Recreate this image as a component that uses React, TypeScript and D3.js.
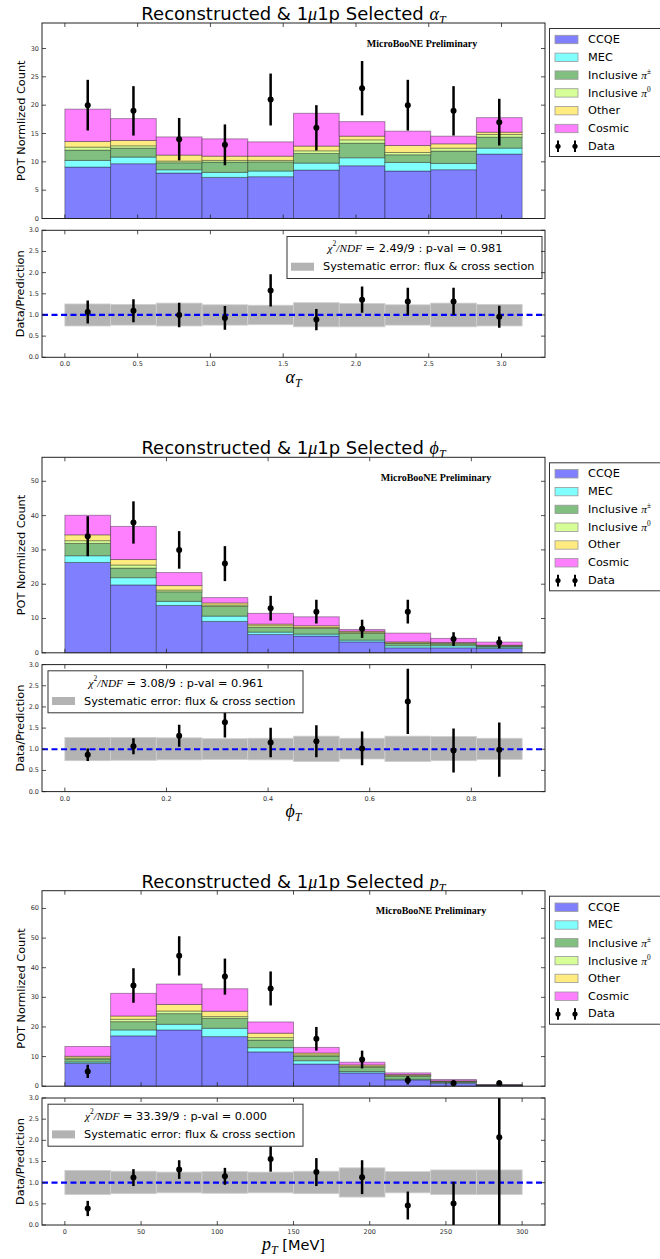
import React from 'react';
import * as d3 from 'd3';

// layout of one figure block (title + main panel + ratio panel)
const FRAME_L = 42;
const FRAME_R = 545;
const MAIN_TOP = 23;
const MAIN_BOT = 218.5;
const RATIO_TOP = 230.3;
const RATIO_BOT = 357.3;
const SANS = 'DejaVu Sans, sans-serif';
const MATH = 'Liberation Serif, DejaVu Serif, serif';

const compKeys = ['CCQE', 'MEC', 'Inclusive pipm', 'Inclusive pi0', 'Other', 'Cosmic'];
const compColors = ['#8080ff', '#80ffff', '#80bf80', '#d6ff97', '#ffeb80', '#ff80ff'];

// ---- alpha_T ----
const alphaRange = [0, Math.PI];
const alphaCCQE = [9.08, 9.67, 8.03, 7.26, 7.38, 8.55, 9.31, 8.38, 8.61, 11.37];
const alphaMEC = [1.17, 1.17, 0.57, 0.88, 1.0, 1.23, 1.41, 1.52, 1.11, 1.05];
const alphaPipm = [1.82, 1.58, 1.24, 1.82, 1.62, 1.7, 2.58, 1.35, 2.18, 1.94];
const alphaPi0 = [0.53, 0.41, 0.3, 0.29, 0.25, 0.47, 0.58, 0.4, 0.52, 0.46];
const alphaOther = [1.0, 0.94, 1.05, 0.75, 0.75, 0.83, 0.65, 1.23, 0.76, 0.41];
const alphaCosmic = [5.7, 3.86, 3.21, 3.06, 2.53, 5.79, 2.57, 2.53, 1.35, 2.57];
const alphaData = [20, 19, 14, 13, 21, 16, 23, 20, 19, 17];
const alphaRatio = [1.07, 1.1, 1.0, 0.93, 1.58, 0.89, 1.36, 1.32, 1.32, 0.96];
const alphaRatioErr = [0.27, 0.27, 0.29, 0.28, 0.38, 0.25, 0.31, 0.32, 0.32, 0.26];
const alphaSysLo = [0.74, 0.76, 0.74, 0.76, 0.77, 0.72, 0.72, 0.76, 0.72, 0.74];
const alphaSysHi = [1.26, 1.25, 1.28, 1.24, 1.23, 1.29, 1.27, 1.24, 1.28, 1.25];
const alphaTicks = [0, 0.5, 1.0, 1.5, 2.0, 2.5, 3.0];
const alphaTickLabels = ['0.0', '0.5', '1.0', '1.5', '2.0', '2.5', '3.0'];

// ---- phi_T ----
const phiRange = [0, 0.9];
const phiCCQE = [26.35, 19.8, 13.8, 9.15, 5.36, 4.9, 3.2, 1.46, 1.46, 1.27];
const phiMEC = [1.95, 2.1, 1.2, 1.55, 0.67, 0.55, 0.5, 0.59, 0.59, 0.39];
const phiPipm = [3.6, 2.8, 2.8, 2.85, 1.37, 1.65, 1.94, 0.65, 0.55, 0.34];
const phiPi0 = [0.8, 0.9, 0.5, 0.4, 0.5, 0.3, 0.36, 0.2, 0.2, 0.1];
const phiOther = [1.7, 1.6, 1.3, 0.6, 0.47, 0.5, 0.3, 0.3, 0.2, 0.14];
const phiCosmic = [5.7, 9.65, 3.8, 1.55, 3.13, 2.6, 0.5, 2.54, 1.2, 0.88];
const phiData = [34, 38, 30, 26, 13, 12, 7, 12, 4, 3];
const phiRatio = [0.87, 1.07, 1.32, 1.64, 1.16, 1.19, 1.02, 2.13, 0.97, 0.99];
const phiRatioErr = [0.15, 0.19, 0.26, 0.36, 0.35, 0.38, 0.4, 0.77, 0.52, 0.64];
const phiSysLo = [0.73, 0.74, 0.75, 0.76, 0.75, 0.71, 0.77, 0.71, 0.73, 0.76];
const phiSysHi = [1.28, 1.28, 1.27, 1.25, 1.26, 1.31, 1.26, 1.31, 1.3, 1.26];
const phiTicks = [0, 0.2, 0.4, 0.6, 0.8];
const phiTickLabels = ['0.0', '0.2', '0.4', '0.6', '0.8'];

// ---- p_T ----
const ptRange = [0, 300];
const ptCCQE = [7.75, 17.0, 19.0, 16.75, 11.6, 7.5, 4.5, 2.14, 1.0, 0.3];
const ptMEC = [0.45, 2.0, 1.9, 2.8, 1.4, 1.1, 0.45, 0.22, 0.25, 0.03];
const ptPipm = [1.0, 2.8, 3.6, 3.35, 2.6, 1.6, 1.45, 1.04, 0.35, 0.05];
const ptPi0 = [0.35, 0.8, 0.9, 0.6, 0.8, 0.4, 0.35, 0.2, 0.1, 0.02];
const ptOther = [0.55, 1.1, 2.2, 1.8, 1.5, 0.6, 0.45, 0.34, 0.1, 0.02];
const ptCosmic = [3.3, 7.65, 6.9, 7.6, 3.8, 1.9, 0.9, 0.56, 0.46, 0.06];
const ptData = [5, 34, 44, 37, 33, 16, 9, 2, 1, 1];
const ptRatio = [0.39, 1.12, 1.31, 1.15, 1.56, 1.25, 1.13, 0.46, 0.51, 2.07];
const ptRatioErr = [0.18, 0.2, 0.22, 0.2, 0.3, 0.33, 0.4, 0.33, 0.51, 2.07];
const ptSysLo = [0.72, 0.74, 0.76, 0.75, 0.76, 0.74, 0.66, 0.76, 0.72, 0.72];
const ptSysHi = [1.29, 1.27, 1.25, 1.26, 1.25, 1.27, 1.35, 1.26, 1.3, 1.3];
const ptTicks = [0, 50, 100, 150, 200, 250, 300];
const ptTickLabels = ['0', '50', '100', '150', '200', '250', '300'];

const ratioTicks = [0, 0.5, 1.0, 1.5, 2.0, 2.5, 3.0];

function legendLabel(i: number) {
  if (i === 2 || i === 3) {
    return (
      <>
        <tspan>Inclusive </tspan>
        <tspan fontFamily={MATH} fontStyle="italic">π</tspan>
        <tspan fontFamily={MATH} fontSize="0.65em" dy="-0.55em">{i === 2 ? '±' : '0'}</tspan>
      </>
    );
  }
  return compKeys[i];
}

function Block(p: any) {
  const n = p.data.length;
  const [lo, hi] = p.range;
  const bw = (hi - lo) / n;
  const pad = 0.05 * (hi - lo);
  const x = d3.scaleLinear().domain([lo - pad, hi + pad]).range([FRAME_L, FRAME_R]);
  const y = d3.scaleLinear().domain([0, 1.5 * (d3.max(p.data as number[]) as number)]).range([MAIN_BOT, MAIN_TOP]);
  const yr = d3.scaleLinear().domain([0, 3]).range([RATIO_BOT, RATIO_TOP]);
  const rows = d3.range(n).map(i => {
    const r: any = {};
    compKeys.forEach((k, j) => (r[k] = p.comps[j][i]));
    return r;
  });
  const stacked = d3.stack().keys(compKeys)(rows);
  const cid = 'clip' + p.id;
  const mainTicks = y.ticks(7);
  const legX = p.legendLeft ? 48 : 287;
  const tick = 4;

  const frameTicks = (top: number, bot: number, yTicks: number[], ys: (v: number) => number) => (
    <g stroke="#222" strokeWidth={0.8}>
      {p.xTicks.map((t: number) => (
        <g key={'x' + t}>
          <line x1={x(t)} x2={x(t)} y1={bot} y2={bot - tick} />
          <line x1={x(t)} x2={x(t)} y1={top} y2={top + tick} />
        </g>
      ))}
      {yTicks.map(t => (
        <g key={'y' + t}>
          <line x1={FRAME_L} x2={FRAME_L + tick} y1={ys(t)} y2={ys(t)} />
          <line x1={FRAME_R} x2={FRAME_R - tick} y1={ys(t)} y2={ys(t)} />
        </g>
      ))}
    </g>
  );

  return (
    <g transform={`translate(0,${p.offset})`} fontFamily={SANS}>
      <defs>
        <clipPath id={cid}>
          <rect x={FRAME_L} y={RATIO_TOP} width={FRAME_R - FRAME_L} height={RATIO_BOT - RATIO_TOP} />
        </clipPath>
      </defs>
      <text x={(FRAME_L + FRAME_R) / 2} y={20} textAnchor="middle" fontSize={18}>
        <tspan>Reconstructed &amp; 1</tspan>
        <tspan fontFamily={MATH} fontStyle="italic">μ</tspan>
        <tspan>1p Selected </tspan>
        <tspan fontFamily={MATH} fontStyle="italic">{p.sym}</tspan>
        <tspan fontFamily={MATH} fontStyle="italic" fontSize={12} dy={4}>T</tspan>
      </text>

      {/* main panel */}
      <rect x={FRAME_L} y={MAIN_TOP} width={FRAME_R - FRAME_L} height={MAIN_BOT - MAIN_TOP} fill="#fff" />
      {stacked.map((s, j) => (
        <g key={s.key}>
          {s.map((d, i) => (
            <rect key={i} x={x(lo + i * bw)} width={x(lo + (i + 1) * bw) - x(lo + i * bw)}
              y={y(d[1])} height={y(d[0]) - y(d[1])}
              fill={compColors[j]} stroke="#000" strokeOpacity={0.35} strokeWidth={1} />
          ))}
        </g>
      ))}
      <text x={p.mbX} y={43} textAnchor="middle" dominantBaseline="central" fontFamily="Liberation Serif, serif" fontWeight="bold" fontSize={10}>
        MicroBooNE Preliminary
      </text>
      {p.data.map((d: number, i: number) => {
        const cx = x(lo + (i + 0.5) * bw);
        const e = Math.sqrt(d);
        return (
          <g key={i}>
            <line x1={cx} x2={cx} y1={y(d - e)} y2={y(d + e)} stroke="#000" strokeWidth={2.5} />
            <circle cx={cx} cy={y(d)} r={3} fill="#000" />
          </g>
        );
      })}
      {frameTicks(MAIN_TOP, MAIN_BOT, mainTicks, y)}
      <rect x={FRAME_L} y={MAIN_TOP} width={FRAME_R - FRAME_L} height={MAIN_BOT - MAIN_TOP} fill="none" stroke="#222" strokeWidth={1} />
      {mainTicks.map(t => (
        <text key={t} x={FRAME_L - 3} y={y(t)} textAnchor="end" dominantBaseline="central" fontSize={6.5} fill="#333">{t}</text>
      ))}
      <text transform={`translate(21,${(MAIN_TOP + MAIN_BOT) / 2}) rotate(-90)`} textAnchor="middle" dominantBaseline="central" fontSize={11.3}>
        POT Normlized Count
      </text>

      {/* component legend */}
      <rect x={549.5} y={28.5} width={130} height={128} fill="#fff" stroke="#333" strokeWidth={1} />
      {compKeys.map((k, i) => {
        const cy = 39.5 + i * 17.8;
        return (
          <g key={k}>
            <rect x={555} y={cy - 4.2} width={23} height={8.4} fill={compColors[i]} stroke="#999" strokeWidth={0.8} />
            <text x={588} y={cy} dominantBaseline="central" fontSize={11.3}>{legendLabel(i)}</text>
          </g>
        );
      })}
      {[558, 575].map(mx => (
        <g key={mx}>
          <line x1={mx} x2={mx} y1={146.3 - 5.8} y2={146.3 + 5.8} stroke="#000" strokeWidth={2} />
          <circle cx={mx} cy={146.3} r={2.6} fill="#000" />
        </g>
      ))}
      <text x={588} y={146.3} dominantBaseline="central" fontSize={11.3}>Data</text>

      {/* ratio panel */}
      <rect x={FRAME_L} y={RATIO_TOP} width={FRAME_R - FRAME_L} height={RATIO_BOT - RATIO_TOP} fill="#fff" />
      <g clipPath={`url(#${cid})`}>
        {p.sysLo.map((l: number, i: number) => (
          <rect key={i} x={x(lo + i * bw)} width={x(lo + (i + 1) * bw) - x(lo + i * bw)}
            y={yr(p.sysHi[i])} height={yr(l) - yr(p.sysHi[i])} fill="#b3b3b3" stroke="#cfcfcf" strokeWidth={0.8} />
        ))}
        <line x1={FRAME_L} x2={FRAME_R} y1={yr(1)} y2={yr(1)} stroke="#0000ff" strokeWidth={2.2} strokeDasharray="6,3.5" />
        {p.ratio.map((r: number, i: number) => {
          const cx = x(lo + (i + 0.5) * bw);
          const e = p.ratioErr[i];
          return (
            <g key={i}>
              <line x1={cx} x2={cx} y1={yr(r - e)} y2={yr(r + e)} stroke="#000" strokeWidth={2.5} />
              <circle cx={cx} cy={yr(r)} r={3} fill="#000" />
            </g>
          );
        })}
      </g>
      {/* chi2 legend */}
      <rect x={legX} y={236.5} width={255} height={42} fill="#fff" stroke="#333" strokeWidth={1} />
      <text x={legX + 128} y={248.3} textAnchor="middle" dominantBaseline="central" fontSize={11.3}>
        <tspan fontFamily={MATH} fontStyle="italic">χ</tspan>
        <tspan fontFamily={MATH} fontSize={7.5} dy={-5}>2</tspan>
        <tspan fontFamily={MATH} fontStyle="italic" dy={5}>/NDF</tspan>
        <tspan>{' = ' + p.chi2}</tspan>
      </text>
      <rect x={legX + 4} y={262.7} width={23} height={8} fill="#b3b3b3" />
      <text x={legX + 36} y={266.8} dominantBaseline="central" fontSize={11.3}>Systematic error: flux &amp; cross section</text>

      {frameTicks(RATIO_TOP, RATIO_BOT, ratioTicks, yr)}
      <rect x={FRAME_L} y={RATIO_TOP} width={FRAME_R - FRAME_L} height={RATIO_BOT - RATIO_TOP} fill="none" stroke="#222" strokeWidth={1} />
      {ratioTicks.map(t => (
        <text key={t} x={FRAME_L - 3} y={yr(t)} textAnchor="end" dominantBaseline="central" fontSize={6.5} fill="#333">{t.toFixed(1)}</text>
      ))}
      {p.xTicks.map((t: number, i: number) => (
        <text key={t} x={x(t)} y={RATIO_BOT + 7} textAnchor="middle" dominantBaseline="central" fontSize={6.5} fill="#333">{p.xTickLabels[i]}</text>
      ))}
      <text transform={`translate(20,${(RATIO_TOP + RATIO_BOT) / 2}) rotate(-90)`} textAnchor="middle" dominantBaseline="central" fontSize={11.3}>
        Data/Prediction
      </text>
      <text x={(FRAME_L + FRAME_R) / 2} y={382.5} textAnchor="middle" fontSize={18}>
        <tspan fontFamily={MATH} fontStyle="italic">{p.sym}</tspan>
        <tspan fontFamily={MATH} fontStyle="italic" fontSize={12} dy={4}>T</tspan>
        {p.unit ? <tspan fontFamily={SANS} fontSize={14.5} dy={-4}>{' ' + p.unit}</tspan> : null}
      </text>
    </g>
  );
}

export default function App() {
  return (
    <svg width={660} height={1259} style={{ position: 'absolute', left: 0, top: 0, background: '#fff' }}>
      <rect width={660} height={1259} fill="#fff" />
      <Block id="a" offset={0} range={alphaRange} sym="α"
        comps={[alphaCCQE, alphaMEC, alphaPipm, alphaPi0, alphaOther, alphaCosmic]}
        data={alphaData} ratio={alphaRatio} ratioErr={alphaRatioErr} sysLo={alphaSysLo} sysHi={alphaSysHi}
        xTicks={alphaTicks} xTickLabels={alphaTickLabels} legendLeft={false}
        chi2="2.49/9 : p-val = 0.981" mbX={422} />
      <Block id="p" offset={434.3} range={phiRange} sym="ϕ"
        comps={[phiCCQE, phiMEC, phiPipm, phiPi0, phiOther, phiCosmic]}
        data={phiData} ratio={phiRatio} ratioErr={phiRatioErr} sysLo={phiSysLo} sysHi={phiSysHi}
        xTicks={phiTicks} xTickLabels={phiTickLabels} legendLeft={true}
        chi2="3.08/9 : p-val = 0.961" mbX={436} />
      <Block id="t" offset={867.7} range={ptRange} sym="p" unit="[MeV]"
        comps={[ptCCQE, ptMEC, ptPipm, ptPi0, ptOther, ptCosmic]}
        data={ptData} ratio={ptRatio} ratioErr={ptRatioErr} sysLo={ptSysLo} sysHi={ptSysHi}
        xTicks={ptTicks} xTickLabels={ptTickLabels} legendLeft={true}
        chi2="33.39/9 : p-val = 0.000" mbX={431} />
    </svg>
  );
}
